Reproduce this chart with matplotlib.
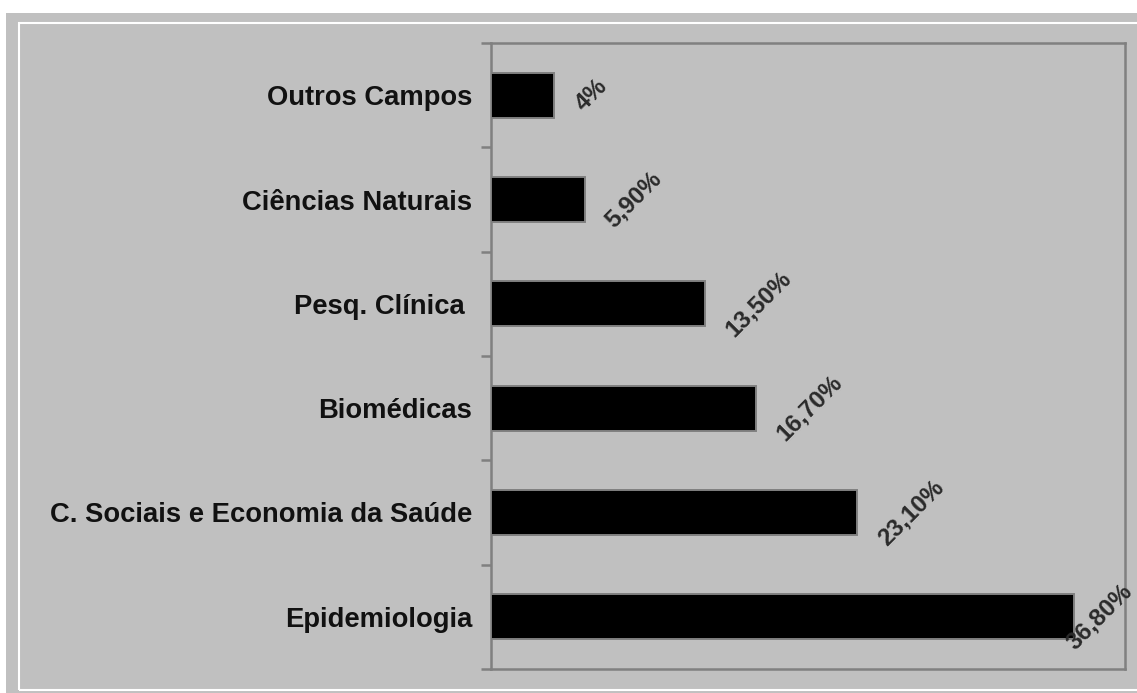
import matplotlib
matplotlib.use("Agg")
import matplotlib.pyplot as plt
from matplotlib.patches import Rectangle
import numpy as np

categories = ["Epidemiologia", "C. Sociais e Economia da Saúde", "Biomédicas",
              "Pesq. Clínica ", "Ciências Naturais", "Outros Campos"]
values = [36.8, 23.1, 16.7, 13.5, 5.9, 4.0]
value_labels = ["36,80%", "23,10%", "16,70%", "13,50%", "5,90%", "4%"]

W, H, DPI = 1137, 693, 100
plt.rcParams['font.family'] = ['Liberation Sans', 'DejaVu Sans']
fig = plt.figure(figsize=(W / DPI, H / DPI), dpi=DPI)
fig.patch.set_facecolor('white')

# grey panel background
fig.patches.append(Rectangle((6 / W, 0), 1 - 6 / W, (H - 13) / H,
                             transform=fig.transFigure, facecolor='#c0c0c0',
                             edgecolor='none', zorder=-2))
# inner white border line
fig.patches.append(Rectangle((19 / W, 1 - 690 / H), 1.2, (690 - 23) / H,
                             transform=fig.transFigure, facecolor='none',
                             edgecolor='white', linewidth=1.5, zorder=-1))

ax = fig.add_axes([491 / W, 1 - 669 / H, (1125 - 491) / W, (669 - 43) / H])
ax.set_zorder(2)
ax.set_facecolor('#c0c0c0')
y = np.arange(len(categories))
bars = ax.barh(y, values, height=0.43, color='black', edgecolor='#808080',
               linewidth=1.4, zorder=3)
ax.set_xlim(0, 40)
ax.set_ylim(-0.5, len(categories) - 0.5)

for s in ax.spines.values():
    s.set_color('#808080')
    s.set_linewidth(1.8)

ax.set_xticks([])
ax.set_yticks(y)
ax.set_yticklabels(categories, fontsize=19.7, fontweight='bold', color='#111111')
ax.tick_params(axis='y', which='major', length=0, pad=13.5)
ax.set_yticks(np.arange(-0.5, len(categories), 1.0), minor=True)
ax.tick_params(axis='y', which='minor', length=7.2, width=1.8, color='#808080')

anns = []
for yi, v, lab in zip(y, values, value_labels):
    a = ax.annotate(lab, xy=(v, yi), xytext=(12, 0), textcoords='offset points',
                    ha='left', va='center', rotation=45, fontsize=17.5,
                    fontweight='bold', color='#2a2a2a', annotation_clip=False,
                    zorder=4)
    anns.append(a)

fig.canvas.draw()
r = fig.canvas.get_renderer()
for a in anns:
    bb = a.get_window_extent(r)
    over = bb.x1 - W
    if over > 0:
        x0, y0 = a.xyann
        a.xyann = (x0 - over * 72 / DPI, y0)

fig.savefig("out.png", dpi=DPI, facecolor=fig.get_facecolor())
